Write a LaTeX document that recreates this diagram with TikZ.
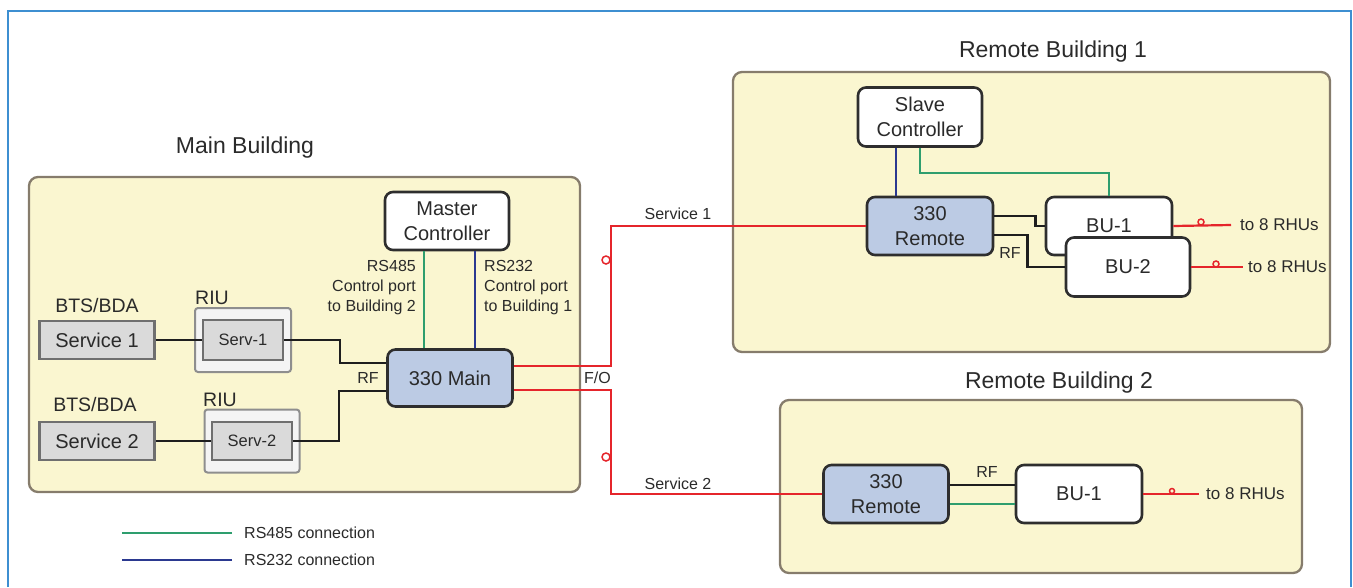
\documentclass[tikz,border=0pt]{standalone}
\usepackage{fontspec}
\setmainfont{Liberation Sans}
\usetikzlibrary{calc}

\definecolor{framebl}{HTML}{3D8FD1}
\definecolor{txt}{HTML}{2A2A2A}
\definecolor{bldgfill}{HTML}{FAF6D0}
\definecolor{bldgline}{HTML}{867C6C}
\definecolor{hubfill}{HTML}{BCCBE4}
\definecolor{unitline}{HTML}{2E2E2E}
\definecolor{grayfill}{HTML}{DADADA}
\definecolor{grayline}{HTML}{6F6F6F}
\definecolor{riufill}{HTML}{F4F4F4}
\definecolor{riuline}{HTML}{8E8E8E}
\definecolor{rfline}{HTML}{1E1E1E}
\definecolor{foline}{HTML}{E5252B}
\definecolor{rsgreen}{HTML}{2E9E6E}
\definecolor{rsblue}{HTML}{2B3990}

\begin{document}
\begin{tikzpicture}[x=1pt,y=-1pt,
    every node/.style={text=txt},
    bldg/.style={draw=bldgline, fill=bldgfill, line width=2.3pt, rounded corners=9pt, inner sep=0pt},
    unit/.style={draw=unitline, fill=white, line width=2.6pt, rounded corners=8pt, align=center,
      inner sep=0pt, font=\fontsize{20}{25}\selectfont},
    hub/.style={unit, fill=hubfill},
    srcbox/.style={draw=grayline, fill=grayfill, line width=2.3pt, inner sep=0pt,
      font=\fontsize{20}{24}\selectfont},
    riuouter/.style={draw=riuline, fill=riufill, line width=2pt, rounded corners=3pt, inner sep=0pt},
    riuinner/.style={draw=grayline, fill=grayfill, line width=2pt, inner sep=0pt,
      font=\fontsize{16.5}{20}\selectfont},
    title/.style={inner sep=0pt, font=\fontsize{23}{28}\selectfont},
    lbl/.style={inner sep=0pt, font=\fontsize{19.5}{24}\selectfont},
    small/.style={inner sep=0pt, font=\fontsize{16}{20}\selectfont},
    rhu/.style={inner sep=0pt, anchor=west, font=\fontsize{17}{20}\selectfont},
    rf/.style={draw=rfline, line width=2.5pt},
    fo/.style={draw=foline, line width=2.2pt},
    rsa/.style={draw=rsgreen, line width=2.4pt},
    rsb/.style={draw=rsblue, line width=2.4pt},
    plug/.style={circle, draw=foline, line width=1.5pt, inner sep=0pt, minimum size=8pt},
  ]
  \useasboundingbox (0,0) rectangle (1353,587);
  \draw[framebl, line width=2.2pt] (8,587) -- (8,11) -- (1351,11) -- (1351,587);

  \node[bldg, minimum width=551pt, minimum height=315pt] (mainb) at (304.5,334.5) {};
  \node[bldg, minimum width=597pt, minimum height=280pt] (rb1) at (1031.5,212) {};
  \node[bldg, minimum width=522pt, minimum height=173pt] (rb2) at (1041,486.5) {};
  \node[title] (mainbt) at (245,148) {Main Building};
  \node[title] (rb1t) at (1053,52) {Remote Building 1};
  \node[title] (rb2t) at (1059,383) {Remote Building 2};

  \node[lbl] (bts1) at (97,306) {BTS/BDA};
  \node[srcbox, minimum width=115pt, minimum height=38pt] (svc1) at (97,340) {Service 1};
  \node[lbl] (riu1t) at (212,298) {RIU};
  \node[riuouter, minimum width=96pt, minimum height=64pt] (riu1) at (243,340) {};
  \node[riuinner, minimum width=80pt, minimum height=40pt] (serv1) at (243,340) {Serv-1};

  \node[lbl] (bts2) at (95,405) {BTS/BDA};
  \node[srcbox, minimum width=115pt, minimum height=38pt] (svc2) at (97,441) {Service 2};
  \node[lbl] (riu2t) at (220,400) {RIU};
  \node[riuouter, minimum width=95pt, minimum height=63pt] (riu2) at (252,441) {};
  \node[riuinner, minimum width=80pt, minimum height=38pt] (serv2) at (252,441) {Serv-2};

  \node[hub, minimum width=125pt, minimum height=57pt] (main) at (450,378) {330 Main};
  \node[unit, minimum width=124pt, minimum height=58pt] (master) at (447,221) {Master\\Controller};
  \node[small, anchor=east, align=right] (rs485t) at (416,288) {RS485\\Control port\\to Building 2};
  \node[small, anchor=west, align=left] (rs232t) at (484,288) {RS232\\Control port\\to Building 1};
  \node[small] (rfm) at (368,378) {RF};
  \node[small, anchor=west] (fo) at (584,378) {F/O};

  \node[unit, minimum width=124pt, minimum height=59pt] (slave) at (920,117) {Slave\\Controller};
  \node[hub, minimum width=126pt, minimum height=58pt] (rem1) at (930,226) {330\\Remote};
  \node[unit, minimum width=126pt, minimum height=58pt] (bu1) at (1109,226) {BU-1};
  \node[unit, minimum width=124pt, minimum height=59pt] (bu2) at (1128,267) {BU-2};
  \node[small] (rf1) at (1010,253) {RF};
  \node[rhu, inner xsep=9pt] (rhu1) at (1231,225) {to 8 RHUs};
  \node[rhu, inner xsep=5pt] (rhu2) at (1243,267) {to 8 RHUs};

  \node[hub, minimum width=125pt, minimum height=58pt] (rem2) at (886,494) {330\\Remote};
  \node[unit, minimum width=126pt, minimum height=58pt] (bu3) at (1079,494) {BU-1};
  \node[small] (rf2) at (987,472) {RF};
  \node[rhu, inner xsep=7pt] (rhu3) at (1199,494) {to 8 RHUs};

  \node[small] (svc1t) at (678,214) {Service 1};
  \node[small] (svc2t) at (678,484) {Service 2};
  \coordinate (split) at (611,378);

  \node[small, anchor=west] (leg1) at (244,533) {RS485 connection};
  \node[small, anchor=west] (leg2) at (244,560) {RS232 connection};

  \begin{scope}[rf]
    \draw (svc1) -- (serv1);
    \draw (svc2) -- (serv2);
    \draw (serv1.east) -- ++(56,0) |- ([yshift=15pt]main.west);
    \draw (serv2.east) -- ++(46,0) |- ([yshift=-13pt]main.west);
    \draw ([yshift=10pt]rem1.east) -- ++(41,0) |- (bu1.west);
    \draw ([yshift=-9pt]rem1.east) -- ++(33,0) |- (bu2.west);
    \draw ([yshift=9pt]rem2.east) -- ([yshift=9pt]bu3.west);
  \end{scope}
  \begin{scope}[fo]
    \draw ([yshift=12pt]main.east) -| (split |- rem1.west) -- (rem1.west);
    \draw ([yshift=-12pt]main.east) -| (split |- rem2.west) -- (rem2.west);
    \draw (bu1.east) -- (rhu1.west);
    \draw (bu2.east) -- (rhu2.west);
    \draw (bu3.east) -- (rhu3.west);
  \end{scope}
  \node[plug] (p1) at (606,260) {};
  \node[plug] (p2) at (606,457) {};
  \node[plug, minimum size=6pt] (p3) at (1201,222) {};
  \node[plug, minimum size=6pt] (p4) at (1216,264) {};
  \node[plug, minimum size=5pt] (p5) at (1172,491) {};

  \draw[rsa] ([xshift=-23pt]master.south) -- ([xshift=-23pt]master.south |- main.north);
  \draw[rsb] ([xshift=28pt]master.south) -- ([xshift=28pt]master.south |- main.north);
  \draw[rsb] ([xshift=-24pt]slave.south) -- ([xshift=-24pt]slave.south |- rem1.north);
  \draw[rsa] (slave.south) -- ++(0,25) -| (bu1.north);
  \draw[rsa] ([yshift=-10pt]rem2.east) -- ([yshift=-10pt]bu3.west);

  \draw[rsa] ([xshift=-12pt]leg1.west) -- ++(-110,0);
  \draw[rsb] ([xshift=-12pt]leg2.west) -- ++(-110,0);
\end{tikzpicture}
\end{document}
